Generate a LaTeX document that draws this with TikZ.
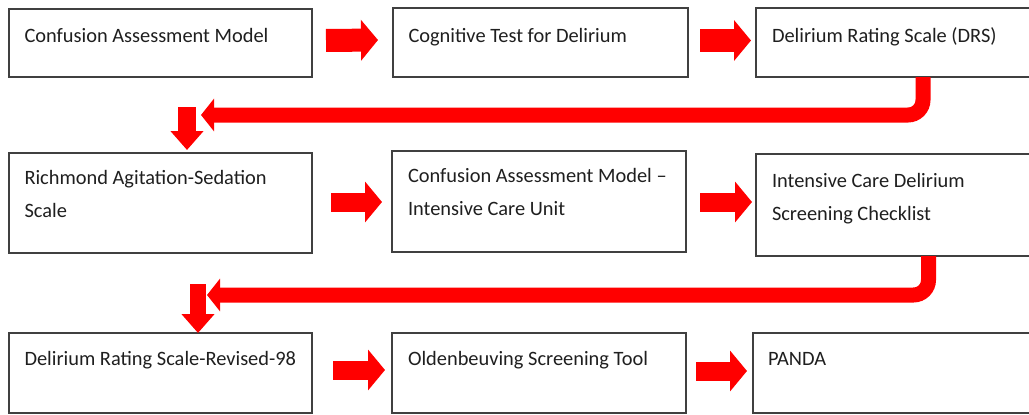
\documentclass[tikz,border=0pt]{standalone}
\usepackage{fontspec}
\setmainfont{Carlito}
\usetikzlibrary{arrows.meta}
\begin{document}
\begin{tikzpicture}[x=1pt,y=-1pt,
  box/.style={draw=black!75, line width=1.3pt, anchor=north west, inner sep=0pt, outer sep=0pt},
  txt/.style={anchor=base west, inner sep=0pt, outer sep=0pt, align=left, text=black!88,
              font=\fontsize{20.4}{33}\selectfont},
  blk/.style={draw=red, line width=#1, -{Triangle[length=17pt,width=40pt]}},
  conn/.style={draw=red, line width=15pt, rounded corners=15pt, -{Triangle[length=13pt,width=32pt]}},
  dn/.style={draw=red, line width=#1, -{Triangle[length=19pt,width=32pt]}}
]
\clip (0,0) rectangle (1029,415);
\fill[white] (0,0) rectangle (1029,415);
% boxes
\node[box, minimum width=303pt, minimum height=68pt] (b1) at (9,9) {};
\node[box, minimum width=295pt, minimum height=69pt] (b2) at (393,8) {};
\node[box, minimum width=300pt, minimum height=69pt] (b3) at (756,8) {};
\node[box, minimum width=303pt, minimum height=100pt] (b4) at (9,153) {};
\node[box, minimum width=294pt, minimum height=101pt] (b5) at (392,151) {};
\node[box, minimum width=300pt, minimum height=102pt] (b6) at (756,154) {};
\node[box, minimum width=303pt, minimum height=80pt] (b7) at (9,333) {};
\node[box, minimum width=294pt, minimum height=80pt] (b8) at (392,333) {};
\node[box, minimum width=300pt, minimum height=80pt] (b9) at (753,333) {};
% texts (base anchor of a two-line text is the second baseline)
\node[txt] (t1) at ([shift={(15.5,33)}]b1.north west) {Confusion Assessment Model};
\node[txt] (t2) at ([shift={(15.5,34)}]b2.north west) {Cognitive Test for Delirium};
\node[txt] (t3) at ([shift={(16,34)}]b3.north west) {Delirium Rating Scale (DRS)};
\node[txt] (t4) at ([shift={(15.5,64)}]b4.north west) {Richmond Agitation-Sedation\\Scale};
\node[txt] (t5) at ([shift={(16,64)}]b5.north west) {Confusion Assessment Model --\\Intensive Care Unit};
\node[txt] (t6) at ([shift={(16,66)}]b6.north west) {Intensive Care Delirium\\Screening Checklist};
\node[txt] (t7) at ([shift={(15.5,32)}]b7.north west) {Delirium Rating Scale-Revised-98};
\node[txt] (t8) at ([shift={(16,32)}]b8.north west) {Oldenbeuving Screening Tool};
\node[txt] (t9) at ([shift={(15,32)}]b9.north west) {PANDA};
% block arrows
\draw[blk=23pt] ([shift={(14,-2.5)}]b1.east) -- ([shift={(-15,-2.5)}]b2.west);
\draw[blk=23pt] ([shift={(12,-2)}]b2.east) -- ([shift={(-5,-2)}]b3.west);
\draw[blk=19pt] ([shift={(19,-1)}]b4.east) -- ([shift={(-10,-1)}]b5.west |- b4.east);
\draw[blk=19pt] ([shift={(14,0.5)}]b5.east) -- ([shift={(-4,0.5)}]b5.east -| b6.west);
\draw[blk=19pt] ([shift={(21,-3)}]b7.east) -- ([shift={(-7,-3)}]b8.west);
\draw[blk=19pt] ([shift={(10,-2)}]b8.east) -- ([shift={(-6,-2)}]b8.east -| b9.west);
% connectors between rows
\coordinate (c1) at (201,115);
\coordinate (d1) at (187,107);
\coordinate (c2) at (207,295);
\coordinate (d2) at (198,284);
\draw[conn] ([xshift=167pt]b3.south west) |- (c1);
\draw[dn=18pt, shorten >=3pt] (d1) -- ([xshift=178pt]b4.north west);
\draw[conn] ([xshift=172.5pt]b6.south west) |- (c2);
\draw[dn=16pt] (d2) -- ([xshift=189pt]b7.north west);
\end{tikzpicture}
\end{document}
